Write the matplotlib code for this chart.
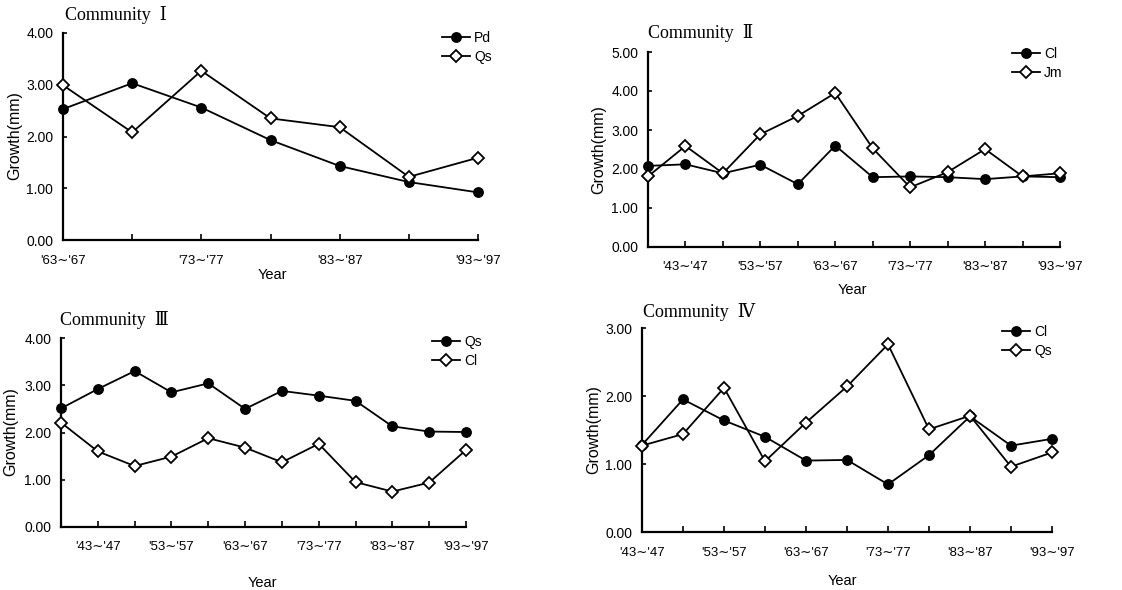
import matplotlib
matplotlib.use("Agg")
import matplotlib.pyplot as plt

W, H = 1122, 590
plt.rcParams['font.family'] = ['Liberation Sans', 'DejaVu Sans']

# ---------------- data ----------------
cats_1 = ["'63∼'67", "'68∼'72", "'73∼'77", "'78∼'82", "'83∼'87", "'88∼'92", "'93∼'97"]
pd_1 = [2.53, 3.03, 2.56, 1.93, 1.43, 1.12, 0.92]
qs_1 = [2.99, 2.08, 3.27, 2.35, 2.18, 1.22, 1.59]

cats_2 = ["'38∼'42", "'43∼'47", "'48∼'52", "'53∼'57", "'58∼'62", "'63∼'67",
          "'68∼'72", "'73∼'77", "'78∼'82", "'83∼'87", "'88∼'92", "'93∼'97"]
cl_2 = [2.08, 2.12, 1.89, 2.11, 1.61, 2.60, 1.79, 1.81, 1.79, 1.74, 1.81, 1.79]
jm_2 = [1.81, 2.59, 1.89, 2.89, 3.36, 3.95, 2.53, 1.53, 1.92, 2.51, 1.81, 1.89]

cats_3 = cats_2
qs_3 = [2.51, 2.92, 3.30, 2.85, 3.04, 2.50, 2.88, 2.78, 2.67, 2.13, 2.02, 2.01]
cl_3 = [2.21, 1.60, 1.29, 1.49, 1.88, 1.68, 1.37, 1.76, 0.95, 0.75, 0.94, 1.63]

cats_4 = cats_2[1:]
cl_4 = [1.28, 1.95, 1.64, 1.40, 1.05, 1.06, 0.70, 1.13, 1.70, 1.27, 1.37]
qs_4 = [1.27, 1.44, 2.12, 1.04, 1.61, 2.14, 2.76, 1.51, 1.71, 0.96, 1.17]

yticks_1 = [0, 1, 2, 3, 4]
yticks_2 = [0, 1, 2, 3, 4, 5]
yticks_3 = [0, 1, 2, 3, 4]
yticks_4 = [0, 1, 2, 3]

titles = ["Community  Ⅰ", "Community  Ⅱ", "Community  Ⅲ", "Community  Ⅳ"]
ylabel = "Growth(mm)"
xlabel = "Year"

# ---------------- layout (pixels) ----------------
fig = plt.figure(figsize=(W / 100, H / 100), dpi=100)
fig.patch.set_facecolor('white')


def fx(x):
    return x / W


def fy(y):
    return 1 - y / H


panels = [
    dict(box=(63, 478, 33, 240), cats=cats_1, s=[("Pd", pd_1, 'o'), ("Qs", qs_1, 'D')],
         yt=yticks_1, title=(65, 15), ylab=(15, 136), xlab=(272, 275), leg=(442, 39), xpad=11),
    dict(box=(648, 1060, 52, 247), cats=cats_2, s=[("Cl", cl_2, 'o'), ("Jm", jm_2, 'D')],
         yt=yticks_2, title=(648, 33), ylab=(599, 150), xlab=(852, 290), leg=(1012, 55), xpad=10),
    dict(box=(61, 466, 338, 527), cats=cats_3, s=[("Qs", qs_3, 'o'), ("Cl", cl_3, 'D')],
         yt=yticks_3, title=(60, 320), ylab=(11, 432), xlab=(262, 583), leg=(432, 343), xpad=10),
    dict(box=(642, 1052, 328, 532), cats=cats_4, s=[("Cl", cl_4, 'o'), ("Qs", qs_4, 'D')],
         yt=yticks_4, title=(643, 312), ylab=(594, 430), xlab=(842, 581), leg=(1002, 333), xpad=11),
]

serif = ['Liberation Serif', 'DejaVu Serif', 'Noto Sans CJK JP']

for p, title in zip(panels, titles):
    l, r, t, b = p['box']
    ax = fig.add_axes([fx(l), fy(b), fx(r - l), (b - t) / H])
    n = len(p['cats'])
    x = list(range(n))
    for name, vals, mk in p['s']:
        if mk == 'o':
            ax.plot(x, vals, color='black', lw=1.3, marker='o', ms=6.8,
                    mfc='black', mec='black', label=name, clip_on=False, zorder=3)
        else:
            ax.plot(x, vals, color='black', lw=1.3, marker='D', ms=5.8,
                    mfc='white', mec='black', mew=1.3, label=name, clip_on=False, zorder=4)
    ax.set_xlim(0, n - 1)
    ax.set_ylim(p['yt'][0], p['yt'][-1])
    ax.set_yticks(p['yt'])
    ax.set_yticklabels([f"{v:.2f}" for v in p['yt']])
    ax.set_xticks(x)
    ax.set_xticklabels([c if c[2] == '3' else '' for c in p['cats']])
    for s in ['top', 'right']:
        ax.spines[s].set_visible(False)
    for s in ['left', 'bottom']:
        ax.spines[s].set_linewidth(1.6)
    ax.tick_params(axis='x', direction='in', length=4, width=1.2, labelsize=9.5, pad=p['xpad'])
    ax.tick_params(axis='y', direction='in', length=3, width=1.2, labelsize=10, pad=7)
    ax.set_facecolor('none')

    fig.text(fx(p['title'][0]), fy(p['title'][1]), title, family=serif, fontsize=13,
             ha='left', va='center')
    fig.text(fx(p['ylab'][0]), fy(p['ylab'][1]), ylabel, fontsize=11.5, rotation=90,
             ha='center', va='center')
    fig.text(fx(p['xlab'][0]), fy(p['xlab'][1]), xlabel, fontsize=10.5,
             ha='center', va='center')
    lx, ly = p['leg']
    ax.legend(loc='upper left', bbox_to_anchor=(fx(lx), fy(ly - 8)),
              bbox_transform=fig.transFigure, frameon=False, fontsize=10,
              handlelength=2.0, handletextpad=0.3, labelspacing=0.35, borderpad=0,
              borderaxespad=0)

fig.savefig("out.png", dpi=100, facecolor='white')
